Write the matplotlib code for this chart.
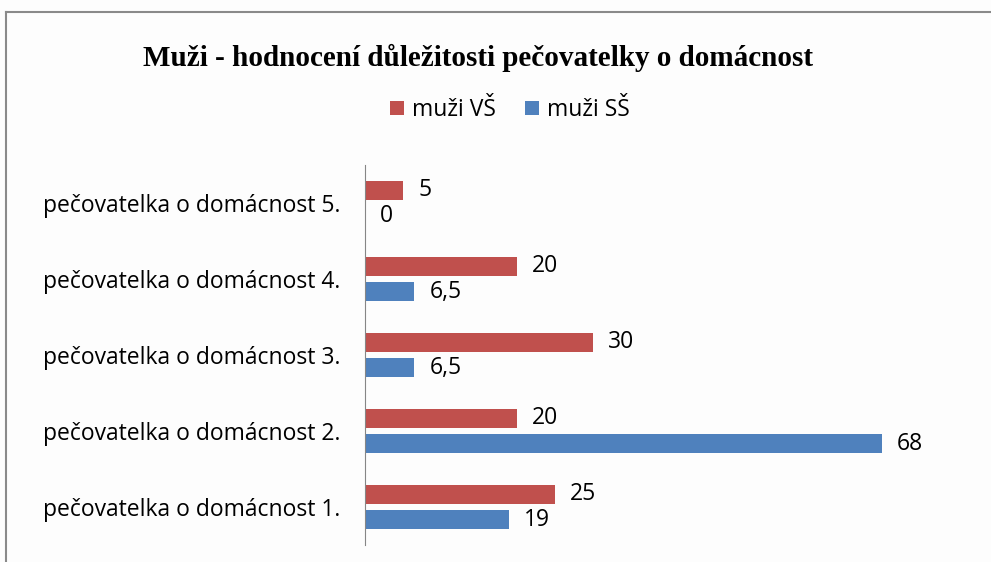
import numpy as np
import matplotlib.pyplot as plt
from matplotlib.lines import Line2D

categories = ['pečovatelka o domácnost 1.', 'pečovatelka o domácnost 2.',
              'pečovatelka o domácnost 3.', 'pečovatelka o domácnost 4.',
              'pečovatelka o domácnost 5.']
muzi_vs = [25, 20, 30, 20, 5]
muzi_ss = [19, 68, 6.5, 6.5, 0]
vs_labels = ['25', '20', '30', '20', '5']
ss_labels = ['19', '68', '6,5', '6,5', '0']

red = '#C0504D'
blue = '#4F81BD'
lab_font = 'Open Sans'
fs = 16.5

fig = plt.figure(figsize=(9.91, 5.62), dpi=100)
fig.patch.set_facecolor('#fdfdfd')

# frame of the excel chart (only top and left visible)
fig.add_artist(Line2D([6/991, 6/991], [0, 1 - 12/562], color='#8a8a8a', lw=1.5, transform=fig.transFigure))
fig.add_artist(Line2D([6/991, 1], [1 - 12/562, 1 - 12/562], color='#8a8a8a', lw=1.5, transform=fig.transFigure))

ax = fig.add_axes([365/991, 1 - 545/562, 608/991, 380/562])
ax.set_facecolor('none')

y = np.arange(len(categories))
h = 0.26
off = 0.165
ax.barh(y + off, muzi_vs, height=h, color=red, label='muži VŠ')
ax.barh(y - off, muzi_ss, height=h, color=blue, label='muži SŠ')

for yi, v, t in zip(y, muzi_vs, vs_labels):
    ax.annotate(t, (v, yi + off), xytext=(15, 0), textcoords='offset pixels',
                va='center', ha='left', fontsize=fs, family=lab_font)
for yi, v, t in zip(y, muzi_ss, ss_labels):
    ax.annotate(t, (v, yi - off), xytext=(15, 0), textcoords='offset pixels',
                va='center', ha='left', fontsize=fs, family=lab_font)

ax.set_xlim(0, 80)
ax.set_ylim(-0.5, 4.5)
ax.set_yticks(y)
ax.set_yticklabels(categories, fontsize=fs, family=lab_font)
ax.tick_params(axis='y', length=0, pad=18)
ax.set_xticks([])
for s in ['top', 'right', 'bottom']:
    ax.spines[s].set_visible(False)
ax.spines['left'].set_color('#868686')

fig.text(478/991, 1 - 58/562, 'Muži - hodnocení důležitosti pečovatelky o domácnost',
         ha='center', va='center', fontsize=21, fontweight='bold', family='Liberation Serif')

fig.legend(loc='center', bbox_to_anchor=(510/991, 1 - 110/562), ncol=2, frameon=False,
           prop={'family': lab_font, 'size': fs}, handlelength=0.6, handleheight=0.6,
           handletextpad=0.35, columnspacing=1.3)

fig.savefig('out.png', dpi=100, facecolor=fig.get_facecolor())
